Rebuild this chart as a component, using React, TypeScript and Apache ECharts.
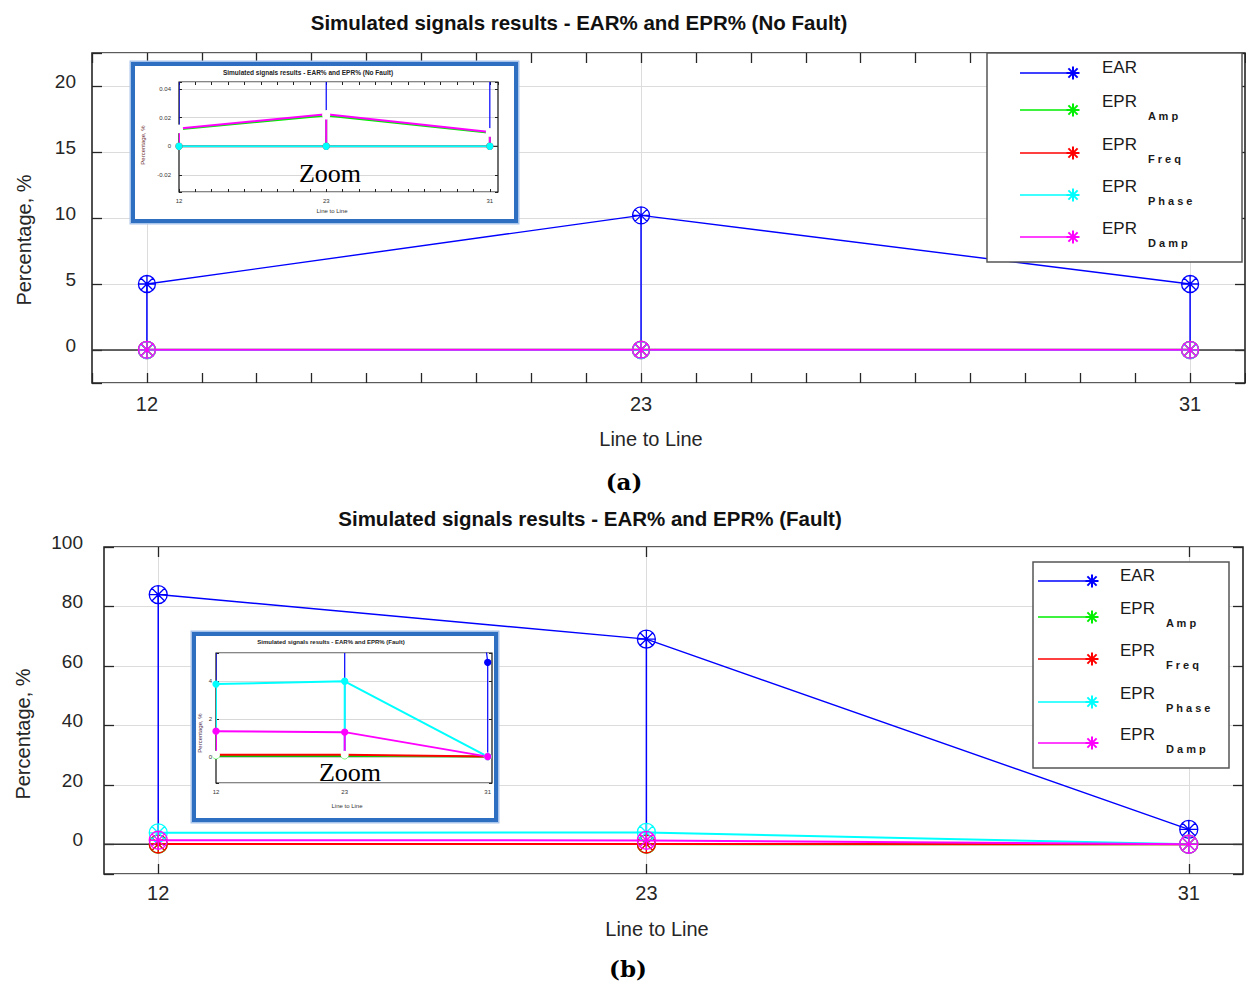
import React, { useEffect, useRef } from 'react';
import * as echarts from 'echarts';

// ---------- data ----------
const lineLabels = ['12', '23', '31'];
const linePositions = [1, 10, 20];
const mainSpan = 21;

const noFaultEAR = [5.0, 10.2, 5.0];
const noFaultAmp = [0.012, 0.0215, 0.0095];
const noFaultFreq = [0, 0, 0];
const noFaultPhase = [0, 0, 0];
const noFaultDamp = [0.0125, 0.0225, 0.01];

const faultEAR = [84, 69, 5];
const faultAmp = [0.05, 0.05, 0];
const faultFreq = [0.1, 0.1, 0];
const faultPhase = [3.85, 4.0, 0];
const faultDamp = [1.35, 1.3, 0];

const seriesNames = ['EAR', 'EPR Amp', 'EPR Freq', 'EPR Phase', 'EPR Damp'];
const legendMain = ['EAR', 'EPR', 'EPR', 'EPR', 'EPR'];
const legendSub = ['', 'A m p', 'F r e q', 'P h a s e', 'D a m p'];
const seriesColors = ['#0000ff', '#00ee00', '#ff0000', '#00ffff', '#ff00ff'];

const noFaultYRange = [-2.5, 22.5];
const noFaultYStep = 5;
const faultYRange = [-10, 100];
const faultYStep = 20;
const noFaultZoomXRange = [1, 20.5];
const noFaultZoomYRange = [-0.032, 0.045];
const noFaultZoomYStep = 0.02;
const faultZoomXRange = [1, 20.3];
const faultZoomYRange = [-1.4, 5.5];
const faultZoomYStep = 2;

const titleA = 'Simulated signals results - EAR% and EPR% (No Fault)';
const titleB = 'Simulated signals results - EAR% and EPR% (Fault)';

// ---------- helpers ----------
const FONT = 'Liberation Sans';
const TXT = '#262626';
const GRIDC = '#dcdcdc';
const cats = Array.from({ length: mainSpan + 1 }, (_, i) => String(i));
const isMajor = (i: number) => linePositions.indexOf(i) >= 0;
const labelAt = (i: number) => {
  const k = linePositions.indexOf(i);
  return k >= 0 ? lineLabels[k] : '';
};
const stepFormatter = (step: number, digits: number) => (v: number) => {
  const r = Math.round(v / step);
  if (Math.abs(v / step - r) > 1e-6) return '';
  return r === 0 ? '0' : (r * step).toFixed(digits);
};

const markerPath =
  'path://M-10,0A10,10,0,1,0,10,0A10,10,0,1,0,-10,0ZM0,-10L0,10M-10,0L10,0M-7.07,-7.07L7.07,7.07M-7.07,7.07L7.07,-7.07';

const mainX = (gridIndex: number, position: string, showLabel: boolean, allTicks: boolean, margin: number) => ({
  type: 'category',
  gridIndex,
  position,
  boundaryGap: false,
  data: cats,
  z: 0,
  axisLine: { show: false, onZero: false },
  axisTick: {
    show: true,
    inside: true,
    length: 10,
    interval: allTicks ? 0 : (i: number) => isMajor(i),
    lineStyle: { color: TXT, width: 1.3 },
  },
  axisLabel: {
    show: showLabel,
    interval: (i: number) => isMajor(i),
    formatter: (v: string) => labelAt(Number(v)),
    margin,
    fontSize: 20,
    color: TXT,
    fontFamily: FONT,
  },
  splitLine: { show: showLabel, interval: (i: number) => isMajor(i), lineStyle: { color: GRIDC, width: 1 } },
});

const mainY = (gridIndex: number, position: string, range: number[], step: number, showLabel: boolean, margin: number) => ({
  type: 'value',
  gridIndex,
  position,
  min: range[0],
  max: range[1],
  splitNumber: 5,
  z: 0,
  axisLine: { show: false, onZero: false },
  axisTick: { show: true, inside: true, length: 10, lineStyle: { color: TXT, width: 1.3 } },
  axisLabel: {
    show: showLabel,
    margin,
    fontSize: 19,
    color: TXT,
    fontFamily: FONT,
    verticalAlign: 'bottom',
    lineHeight: 9,
    formatter: stepFormatter(step, 0),
  },
  splitLine: { show: showLabel, lineStyle: { color: GRIDC, width: 1 } },
});

const insetX = (gridIndex: number, position: string, range: number[], showLabel: boolean, ticks: boolean, margin: number) => ({
  type: 'value',
  gridIndex,
  position,
  min: range[0],
  max: range[1],
  interval: 1,
  z: 12,
  axisLine: { show: false, onZero: false },
  axisTick: { show: ticks, inside: true, length: 3, lineStyle: { color: '#222', width: 1 } },
  axisLabel: {
    show: showLabel,
    margin,
    fontSize: 6,
    color: '#333',
    fontFamily: FONT,
    formatter: (v: number) => labelAt(Math.round(v)),
    showMinLabel: true,
    showMaxLabel: false,
  },
  splitLine: { show: false },
});

const insetY = (gridIndex: number, position: string, range: number[], step: number, digits: number, splitNumber: number, showLabel: boolean, margin: number) => ({
  type: 'value',
  gridIndex,
  position,
  min: range[0],
  max: range[1],
  splitNumber,
  z: 12,
  axisLine: { show: false, onZero: false },
  axisTick: { show: true, inside: true, length: 3, lineStyle: { color: '#222', width: 1 } },
  axisLabel: {
    show: showLabel,
    margin,
    fontSize: 6,
    color: '#333',
    fontFamily: FONT,
    formatter: stepFormatter(step, digits),
  },
  splitLine: { show: showLabel, lineStyle: { color: '#d8d8d8', width: 1 } },
});

const stemRender = (color: string, width: number) => (_p: any, api: any) => {
  const x = api.value(0);
  const y = api.value(1);
  const a = api.coord([x, y]);
  const b = api.coord([x, 0]);
  return {
    type: 'line',
    shape: { x1: a[0], y1: a[1], x2: b[0], y2: b[1] },
    style: { stroke: color, lineWidth: width },
  };
};

type SeriesSpec = { values: number[]; color: string; name: string; symbol: string; size: number; fill: string; lw: number; stemW: number };

const buildSeries = (axisIndex: number, z: number, zeroRange: number[], specs: SeriesSpec[]) => {
  const out: any[] = [];
  out.push({
    type: 'line',
    name: 'zero',
    xAxisIndex: axisIndex,
    yAxisIndex: axisIndex,
    data: [
      [zeroRange[0], 0],
      [zeroRange[1], 0],
    ],
    symbol: 'none',
    silent: true,
    lineStyle: { color: '#333', width: 1.3 },
    z,
  });
  specs.forEach((s) => {
    const pts = linePositions.map((p, i) => [p, s.values[i]]);
    out.push({
      type: 'custom',
      name: s.name + ' stem',
      xAxisIndex: axisIndex,
      yAxisIndex: axisIndex,
      data: pts,
      clip: true,
      silent: true,
      renderItem: stemRender(s.color, s.stemW),
      z,
    });
    out.push({
      type: 'line',
      name: s.name,
      xAxisIndex: axisIndex,
      yAxisIndex: axisIndex,
      data: pts,
      clip: true,
      silent: true,
      symbol: s.symbol,
      symbolSize: s.size,
      showSymbol: true,
      lineStyle: { color: s.color, width: s.lw },
      itemStyle: { color: s.fill, borderColor: s.color, borderWidth: 1.3 },
      emphasis: { disabled: true },
      z,
    });
  });
  return out;
};

const txt = (text: string, x: number, y: number, font: string, fill: string, z: number, rotation = 0, align = 'center') => ({
  type: 'text',
  x,
  y,
  rotation,
  z,
  silent: true,
  style: {
    text,
    font,
    fill,
    align,
    verticalAlign: 'middle',
    textAlign: align,
    textVerticalAlign: 'middle',
  },
});

const asterisk = (cx: number, cy: number, color: string, r: number, z: number) =>
  [0, 45, 90, 135].map((deg) => {
    const a = (deg * Math.PI) / 180;
    return {
      type: 'line',
      z,
      silent: true,
      shape: { x1: cx - r * Math.cos(a), y1: cy - r * Math.sin(a), x2: cx + r * Math.cos(a), y2: cy + r * Math.sin(a) },
      style: { stroke: color, lineWidth: 2 },
    };
  });

const legend = (box: number[], x1: number, x2: number, tx: number, sx: number, rows: number[], z: number) => {
  const els: any[] = [
    {
      type: 'rect',
      z,
      silent: true,
      shape: { x: box[0], y: box[1], width: box[2], height: box[3] },
      style: { fill: '#fff', stroke: '#555', lineWidth: 1.5 },
    },
  ];
  rows.forEach((ry, i) => {
    els.push({
      type: 'line',
      z: z + 1,
      silent: true,
      shape: { x1, y1: ry, x2, y2: ry },
      style: { stroke: seriesColors[i], lineWidth: 1.6 },
    });
    els.push(...asterisk(x2, ry, seriesColors[i], 6.5, z + 1));
    els.push(txt(legendMain[i], tx, ry - (i === 0 ? 6 : 9), `17px "${FONT}"`, '#1a1a1a', z + 1, 0, 'left'));
    if (legendSub[i]) els.push(txt(legendSub[i], sx, ry + 6, `bold 11px "${FONT}"`, '#1a1a1a', z + 1, 0, 'left'));
  });
  return els;
};

const frame = (x: number, y: number, w: number, h: number, z: number) => [
  {
    type: 'rect',
    z,
    silent: true,
    shape: { x: x - 2.5, y: y - 2.5, width: w + 5, height: h + 5 },
    style: { fill: '#fff', stroke: '#a9c4ea', lineWidth: 2 },
  },
  {
    type: 'rect',
    z,
    silent: true,
    shape: { x, y, width: w, height: h },
    style: { fill: '#fff', stroke: '#2f6fc2', lineWidth: 4 },
  },
];

function buildOption(): any {
  const mainSpecs = (vals: number[][], size: number): SeriesSpec[] =>
    vals.map((v, i) => ({
      values: v,
      color: seriesColors[i],
      name: seriesNames[i],
      symbol: markerPath,
      size,
      fill: 'rgba(255,255,255,0)',
      lw: i === 0 ? 1.4 : 2,
      stemW: 1.5,
    }));
  const insetSpecs = (vals: number[][], symbols: string[]): SeriesSpec[] =>
    vals.map((v, i) => ({
      values: v,
      color: seriesColors[i],
      name: seriesNames[i] + ' zoom',
      symbol: symbols[i],
      size: 6,
      fill: symbols[i] === 'emptyCircle' ? '#fff' : seriesColors[i],
      lw: i === 0 ? 1.2 : 2,
      stemW: i === 0 ? 1.2 : 2,
    }));

  const noFault = [noFaultEAR, noFaultAmp, noFaultFreq, noFaultPhase, noFaultDamp];
  const fault = [faultEAR, faultAmp, faultFreq, faultPhase, faultDamp];

  return {
    animation: false,
    backgroundColor: '#fff',
    grid: [
      { left: 92, top: 53, width: 1153, height: 330, show: true, borderColor: '#262626', borderWidth: 1.6, backgroundColor: 'rgba(0,0,0,0)', z: 0 },
      { left: 179, top: 82, width: 319, height: 110, show: true, borderColor: '#111', borderWidth: 1.2, backgroundColor: '#fff', z: 11 },
      { left: 104, top: 547, width: 1139, height: 327, show: true, borderColor: '#262626', borderWidth: 1.6, backgroundColor: 'rgba(0,0,0,0)', z: 0 },
      { left: 216, top: 653, width: 276, height: 130, show: true, borderColor: '#111', borderWidth: 1.2, backgroundColor: '#fff', z: 11 },
    ],
    xAxis: [
      mainX(0, 'bottom', true, true, 11),
      mainX(0, 'top', false, true, 0),
      insetX(1, 'bottom', noFaultZoomXRange, true, true, 6),
      insetX(1, 'top', noFaultZoomXRange, false, true, 0),
      mainX(2, 'bottom', true, false, 9),
      mainX(2, 'top', false, false, 0),
      insetX(3, 'bottom', faultZoomXRange, true, false, 6),
      insetX(3, 'top', faultZoomXRange, false, false, 0),
    ],
    yAxis: [
      mainY(0, 'left', noFaultYRange, noFaultYStep, true, 16),
      mainY(0, 'right', noFaultYRange, noFaultYStep, false, 0),
      insetY(1, 'left', noFaultZoomYRange, noFaultZoomYStep, 2, 5, true, 8),
      insetY(1, 'right', noFaultZoomYRange, noFaultZoomYStep, 2, 5, false, 0),
      mainY(2, 'left', faultYRange, faultYStep, true, 21),
      mainY(2, 'right', faultYRange, faultYStep, false, 0),
      insetY(3, 'left', faultZoomYRange, faultZoomYStep, 0, 3, true, 4),
      insetY(3, 'right', faultZoomYRange, faultZoomYStep, 0, 3, false, 0),
    ],
    series: [
      ...buildSeries(0, 2, [0, mainSpan], mainSpecs(noFault, 17)),
      ...buildSeries(2, 13, noFaultZoomXRange, insetSpecs(noFault, ['circle', 'emptyCircle', 'circle', 'circle', 'emptyCircle'])),
      ...buildSeries(4, 2, [0, mainSpan], mainSpecs(fault, 18)),
      ...buildSeries(6, 13, faultZoomXRange, insetSpecs(fault, ['circle', 'circle', 'emptyCircle', 'circle', 'circle'])),
    ],
    graphic: {
      elements: [
        ...frame(133, 64, 383, 157, 10),
        ...frame(194, 634, 302, 186, 10),
        txt(titleA, 579, 22, `bold 20.5px "${FONT}"`, '#111', 30),
        txt(titleB, 590, 518, `bold 20.5px "${FONT}"`, '#111', 30),
        txt('Percentage, %', 24, 240, `20px "${FONT}"`, TXT, 30, Math.PI / 2),
        txt('Percentage, %', 23, 734, `20px "${FONT}"`, TXT, 30, Math.PI / 2),
        txt('Line to Line', 651, 439, `20px "${FONT}"`, TXT, 30),
        txt('Line to Line', 657, 929, `20px "${FONT}"`, TXT, 30),
        txt('(a)', 624, 481, `bold 23px "DejaVu Serif"`, '#000', 30),
        txt('(b)', 628, 968, `bold 23px "DejaVu Serif"`, '#000', 30),
        // inset texts
        txt(titleA, 308, 72, `bold 6.5px "${FONT}"`, '#222', 20),
        txt('Percentage, %', 143, 145, `6px "${FONT}"`, '#6b2c2c', 20, Math.PI / 2),
        txt('Line to Line', 332, 211, `6px "${FONT}"`, '#333', 20),
        txt('Zoom', 330, 173, `26px "Liberation Serif"`, '#000', 20),
        txt(titleB, 331, 642, `bold 6px "${FONT}"`, '#222', 20),
        txt('Percentage, %', 200, 733, `6px "${FONT}"`, '#4a2c4a', 20, Math.PI / 2),
        txt('Line to Line', 347, 806, `6px "${FONT}"`, '#333', 20),
        txt('Zoom', 350, 772, `26px "Liberation Serif"`, '#000', 20),
        // legends
        ...legend([987, 53, 255, 209], 1020, 1073, 1102, 1148, [73, 110, 153, 195, 237], 40),
        ...legend([1033, 562, 196, 206], 1038, 1092, 1120, 1166, [581, 617, 659, 702, 743], 40),
      ],
    },
  };
}

export default function App() {
  const ref = useRef<HTMLDivElement>(null);
  useEffect(() => {
    if (!ref.current) return;
    const chart = echarts.init(ref.current, null, { renderer: 'svg' });
    chart.setOption(buildOption());
    return () => chart.dispose();
  }, []);
  return (
    <div
      ref={ref}
      style={{ position: 'absolute', left: 0, top: 0, width: 1246, height: 987, background: '#fff' }}
    />
  );
}
